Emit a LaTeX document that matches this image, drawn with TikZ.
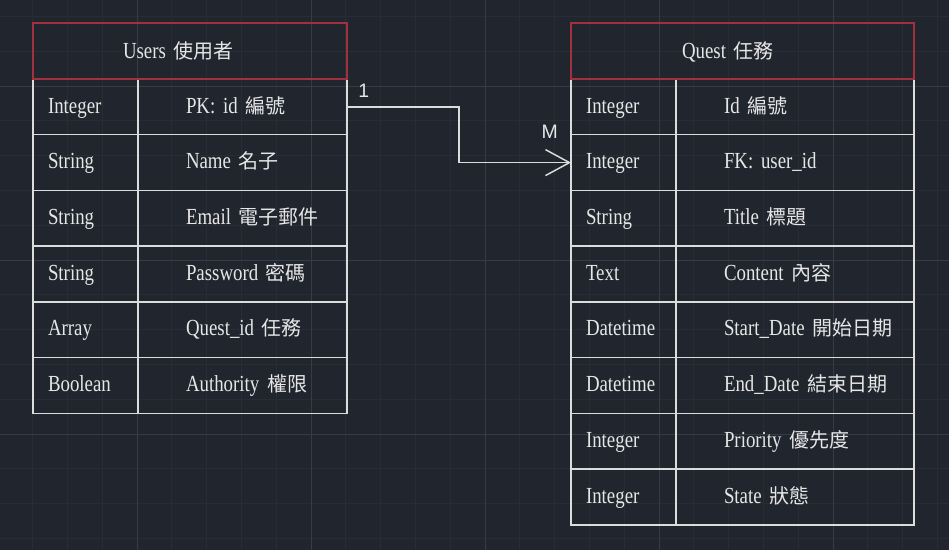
\documentclass[tikz,border=0pt]{standalone}
\usepackage{fontspec}
\setmainfont{Liberation Serif}[FakeStretch=0.82]
\newfontfamily\cjkfont{Noto Sans CJK TC}[Scale=0.87]
\newfontfamily\labelfont{Liberation Sans}
\usetikzlibrary{positioning,arrows.meta}
\definecolor{cadbg}{HTML}{21262E}
\definecolor{cadminor}{HTML}{272C35}
\definecolor{cadmajor}{HTML}{363C46}
\definecolor{cadline}{HTML}{DCDCDC}
\definecolor{cadred}{HTML}{A3303F}
\definecolor{cadtext}{HTML}{E6E6E6}
\newcommand{\zh}[1]{{\cjkfont #1}}
\frenchspacing

\begin{document}
\begin{tikzpicture}[
  x=0.75pt, y=-0.75pt,
  gridminor/.style={draw=cadminor, line width=0.75pt},
  gridmajor/.style={draw=cadmajor, line width=0.75pt},
  cell/.style={rectangle, draw=cadline, line width=1.1pt, outer sep=0pt,
               inner xsep=0pt, inner ysep=0pt, minimum height=41.8pt,
               text height=12pt, text depth=2.8pt, align=left, anchor=north west,
               text=cadtext, font={\fontsize{17.25}{20}\selectfont\spaceskip=3.2pt\relax}},
  typecell/.style={cell, text width=78.75pt,
                   execute at begin node={\noindent\hspace*{11.25pt}}},
  namecell/.style={cell, text width=#1,
                   execute at begin node={\noindent\hspace*{36pt}}},
  head/.style 2 args={cell, draw=cadred, text width=#1, minimum height=42pt,
                      text height=13pt, text depth=1.4pt,
                      execute at begin node={\noindent\hspace*{#2}}},
  rel/.style={draw=cadline, line width=1.1pt,
              -{Straight Barb[length=18pt, width=19.5pt]}},
  lbl/.style={inner sep=0pt, text=cadtext, font=\labelfont\fontsize{14.6}{16}\selectfont}
]
\useasboundingbox (0,0) rectangle (949,550);

% background grid
\fill[cadbg] (0,0) rectangle (949,550);
\foreach \i in {-3,...,23}
  \draw[gridminor] ({137+34.8*\i},0) -- ({137+34.8*\i},550);
\foreach \j in {-2,...,13}
  \draw[gridminor] (0,{86+34.8*\j}) -- (949,{86+34.8*\j});
\foreach \i in {0,5,10,15,20}
  \draw[gridmajor] ({137+34.8*\i},0) -- ({137+34.8*\i},550);
\foreach \j in {0,5,10}
  \draw[gridmajor] (0,{86+34.8*\j}) -- (949,{86+34.8*\j});

% Users table
\node[typecell] (u1t) at (33,79) {Integer};
\node[namecell=156.75pt, right=0pt of u1t] (u1n) {PK: id \zh{編號}};
\node[typecell, below=0pt of u1t] (u2t) {String};
\node[namecell=156.75pt, right=0pt of u2t] (u2n) {Name \zh{名子}};
\node[typecell, below=0pt of u2t] (u3t) {String};
\node[namecell=156.75pt, right=0pt of u3t] (u3n) {Email \zh{電子郵件}};
\node[typecell, below=0pt of u3t] (u4t) {String};
\node[namecell=156.75pt, right=0pt of u4t] (u4n) {Password \zh{密碼}};
\node[typecell, below=0pt of u4t] (u5t) {Array};
\node[namecell=156.75pt, right=0pt of u5t] (u5n) {Quest\_id \zh{任務}};
\node[typecell, below=0pt of u5t] (u6t) {Boolean};
\node[namecell=156.75pt, right=0pt of u6t] (u6n) {Authority \zh{權限}};
\node[head={235.5pt}{67.5pt}, anchor=south west] (users) at (u1t.north west) {Users \zh{使用者}};

% Quest table
\node[typecell] (q1t) at (571,79) {Integer};
\node[namecell=178.5pt, right=0pt of q1t] (q1n) {Id \zh{編號}};
\node[typecell, below=0pt of q1t] (q2t) {Integer};
\node[namecell=178.5pt, right=0pt of q2t] (q2n) {FK: user\_id};
\node[typecell, below=0pt of q2t] (q3t) {String};
\node[namecell=178.5pt, right=0pt of q3t] (q3n) {Title \zh{標題}};
\node[typecell, below=0pt of q3t] (q4t) {Text};
\node[namecell=178.5pt, right=0pt of q4t] (q4n) {Content \zh{內容}};
\node[typecell, below=0pt of q4t] (q5t) {Datetime};
\node[namecell=178.5pt, right=0pt of q5t] (q5n) {Start\_Date \zh{開始日期}};
\node[typecell, below=0pt of q5t] (q6t) {Datetime};
\node[namecell=178.5pt, right=0pt of q6t] (q6n) {End\_Date \zh{結束日期}};
\node[typecell, below=0pt of q6t] (q7t) {Integer};
\node[namecell=178.5pt, right=0pt of q7t] (q7n) {Priority \zh{優先度}};
\node[typecell, below=0pt of q7t] (q8t) {Integer};
\node[namecell=178.5pt, right=0pt of q8t] (q8n) {State \zh{狀態}};
\node[head={257.25pt}{83.25pt}, anchor=south west] (quest) at (q1t.north west) {Quest \zh{任務}};

% relation 1 : M
\draw[rel] (u1n.east) -- ++(112,0) |- (q2t.west);
\node[lbl, above right=6.75pt and 8.25pt of u1n.east] (one) {1};
\node[lbl, above left=18pt and 9.75pt of q2t.west] (many) {M};

\end{tikzpicture}
\end{document}
